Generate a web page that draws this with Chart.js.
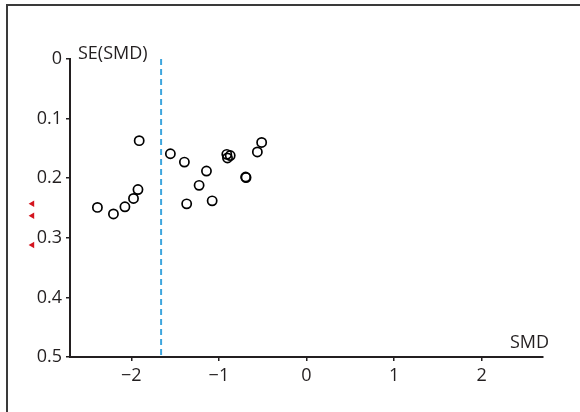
<!DOCTYPE html>
<html><head><meta charset="utf-8">
<script src="https://cdn.jsdelivr.net/npm/chart.js@4"></script>
<style>
html,body{margin:0;padding:0;width:580px;height:412px;overflow:hidden;background:#fff;}
#frame{position:absolute;left:6px;top:4px;width:700px;height:600px;border-left:2px solid #3a3a3a;border-top:2px solid #3a3a3a;}
#wrap{position:absolute;left:0;top:0;width:580px;height:412px;}
</style></head><body>
<div id="frame"></div>
<div id="wrap"><canvas id="c" width="580" height="412"></canvas></div>
<script>
// Data
const studySMD = [-1.91, -2.387, -2.204, -2.073, -1.975, -1.924, -1.554, -1.394, -1.142, -1.226, -1.368, -1.077, -0.910, -0.871, -0.902, -0.695, -0.690, -0.561, -0.512];
const studySE  = [0.137, 0.249, 0.260, 0.248, 0.234, 0.219, 0.159, 0.173, 0.188, 0.212, 0.243, 0.238, 0.160, 0.162, 0.166, 0.198, 0.199, 0.156, 0.140];
const pooledSMD = -1.66;
const pooledSERange = [0, 0.5];
const missingSMD = [-3.13, -3.13, -3.13];
const missingSE  = [0.243, 0.263, 0.312];
const xTicks = [-2, -1, 0, 1, 2];
const xTickLabels = ['\u22122', '\u22121', '0', '1', '2'];
const yTicks = [0, 0.1, 0.2, 0.3, 0.4, 0.5];
const yTickLabels = ['0', '0.1', '0.2', '0.3', '0.4', '0.5'];
const xTitle = 'SMD';
const yTitle = 'SE(SMD)';

const ink = '#231f20';
const red = '#d4141e';
const FONT = '"Open Sans", "Noto Sans", sans-serif';

const titlePlugin = {
  id: 'titles',
  afterDraw(chart) {
    const {ctx, chartArea: a} = chart;
    ctx.save();
    ctx.font = '18px ' + FONT;
    ctx.fillStyle = ink;
    ctx.textBaseline = 'middle';
    ctx.textAlign = 'left';
    ctx.fillText(yTitle, a.left + 8, a.top - 5);
    ctx.textAlign = 'right';
    ctx.fillText(xTitle, a.right + 6, a.bottom - 14);
    ctx.restore();
  }
};

// Points outside the chart area are skipped by Chart.js; draw them from the
// dataset's element positions (computed through the scales).
const outsidePointsPlugin = {
  id: 'outsidePoints',
  afterDatasetsDraw(chart) {
    const ctx = chart.ctx;
    const meta = chart.getDatasetMeta(2);
    ctx.save();
    ctx.fillStyle = red;
    ctx.strokeStyle = red;
    meta.data.forEach(el => {
      Chart.helpers.drawPoint(ctx, {pointStyle: 'triangle', radius: 3.7, rotation: -90, borderWidth: 0}, el.x, el.y);
    });
    ctx.restore();
  }
};

new Chart(document.getElementById('c'), {
  type: 'scatter',
  data: {
    datasets: [
      {
        label: 'Pooled',
        data: pooledSERange.map(s => ({x: pooledSMD, y: s})),
        showLine: true,
        borderColor: '#3ea6de',
        borderWidth: 2,
        borderDash: [6, 4],
        pointRadius: 0,
        order: 3
      },
      {
        label: 'Studies',
        data: studySMD.map((x, i) => ({x, y: studySE[i]})),
        pointStyle: 'circle',
        pointRadius: 4.6,
        pointBorderWidth: 1.7,
        borderColor: '#000',
        backgroundColor: 'rgba(0,0,0,0)',
        order: 1
      },
      {
        label: 'Missing',
        data: missingSMD.map((x, i) => ({x, y: missingSE[i]})),
        pointStyle: 'triangle',
        pointRotation: -90,
        pointRadius: 3.7,
        pointBorderWidth: 0,
        borderColor: red,
        backgroundColor: red,
        clip: false,
        order: 2
      }
    ]
  },
  options: {
    responsive: false,
    animation: false,
    devicePixelRatio: 1,
    layout: {padding: {top: 59, right: 37, left: 0, bottom: 0}},
    plugins: {legend: {display: false}, tooltip: {enabled: false}},
    scales: {
      x: {
        type: 'linear',
        min: -2.7, max: 2.7,
        afterBuildTicks: s => { s.ticks = xTicks.map(v => ({value: v})); },
        afterFit: s => { s.height = 55; },
        ticks: {
          callback: (v, i) => xTickLabels[i],
          color: ink, font: {family: FONT, size: 18}, padding: 4, maxRotation: 0, autoSkip: false
        },
        grid: {drawOnChartArea: false, drawTicks: true, tickLength: 4, color: ink, lineWidth: 1.5},
        border: {display: true, color: ink, width: 2}
      },
      y: {
        type: 'linear',
        reverse: true,
        min: 0, max: 0.5,
        afterBuildTicks: s => { s.ticks = yTicks.map(v => ({value: v})); },
        afterFit: s => { s.width = 70; },
        ticks: {
          callback: (v, i) => yTickLabels[i],
          color: ink, font: {family: FONT, size: 18}, padding: 4, autoSkip: false
        },
        grid: {drawOnChartArea: false, drawTicks: true, tickLength: 4, color: ink, lineWidth: 1.5},
        border: {display: true, color: ink, width: 2}
      }
    }
  },
  plugins: [titlePlugin, outsidePointsPlugin]
});
</script>
</body></html>
